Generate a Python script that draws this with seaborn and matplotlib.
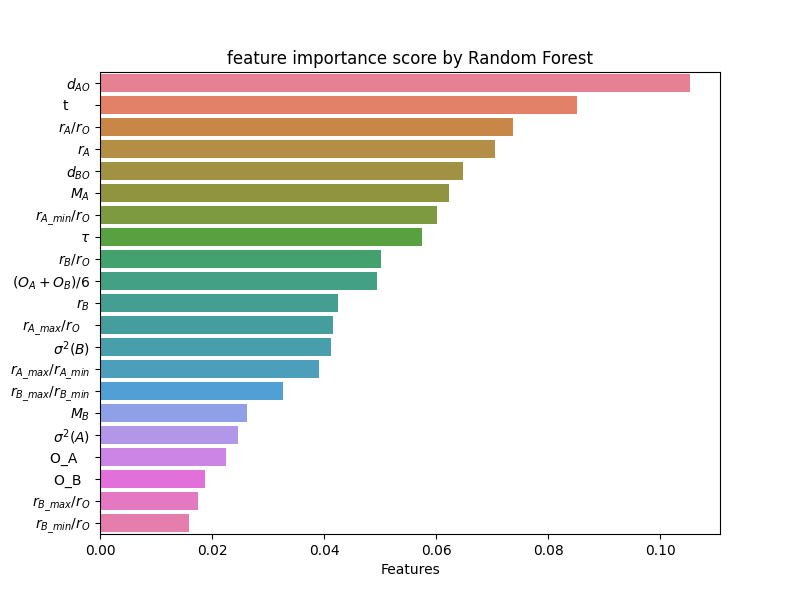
import matplotlib
matplotlib.use("Agg")
import matplotlib.pyplot as plt
import seaborn as sns
import pandas as pd

features = [
    r"$d_{AO}$", "t     ", r"$r_A/r_O$", r"$r_A$", r"$d_{BO}$", r"$M_A$",
    r"$r_{A\_min}/r_O$", r"$\tau$", r"$r_B/r_O$", r"$(O_A+O_B)/6$", r"$r_B$",
    r"$r_{A\_max}/r_O$   ", r"$\sigma^2(B)$", r"$r_{A\_max}/r_{A\_min}$",
    r"$r_{B\_max}/r_{B\_min}$", r"$M_B$", r"$\sigma^2(A)$", "O_A   ", "O_B  ",
    r"$r_{B\_max}/r_O$", r"$r_{B\_min}/r_O$",
]
scores = [0.1054, 0.0852, 0.0737, 0.0705, 0.0648, 0.0623, 0.0602, 0.0575,
          0.0502, 0.0495, 0.0425, 0.0416, 0.0413, 0.0391, 0.0327, 0.0263,
          0.0246, 0.0225, 0.0188, 0.0175, 0.0159]

df = pd.DataFrame({"feature": features, "score": scores})

fig, ax = plt.subplots(figsize=(8, 6), dpi=100)
sns.barplot(data=df, x="score", y="feature", hue="feature",
            palette=sns.husl_palette(len(features)), legend=False, ax=ax)
ax.set_xlim(0, 0.1107)
ax.set_title("feature importance score by Random Forest")
ax.set_xlabel("Features")
ax.set_ylabel("")
plt.savefig("out.png")
